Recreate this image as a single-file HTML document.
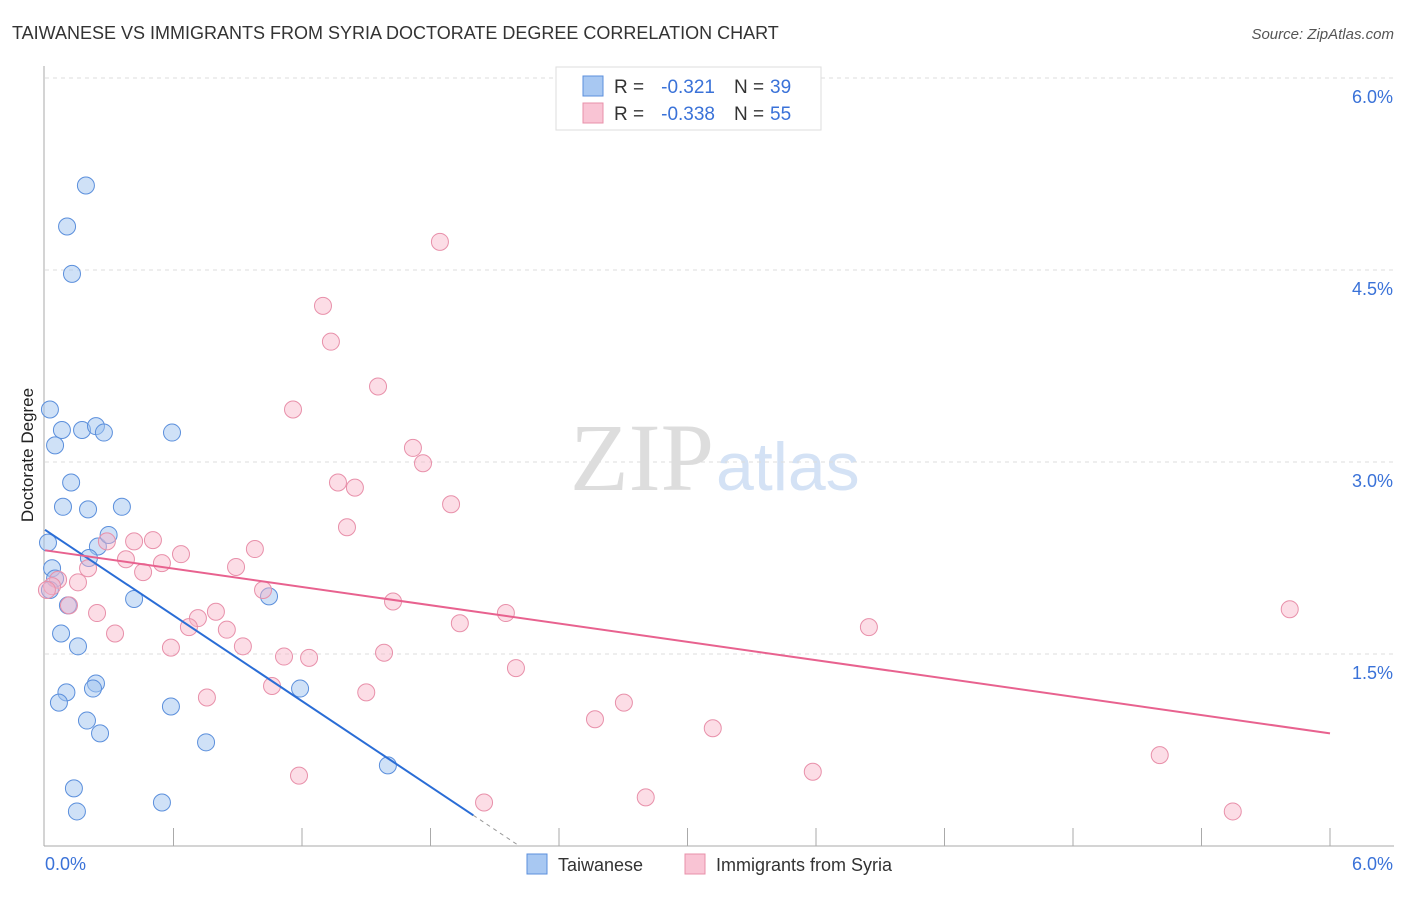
<!DOCTYPE html>
<html><head><meta charset="utf-8"><style>
body{margin:0;background:#fff;font-family:"Liberation Sans",sans-serif}
</style></head><body>
<svg id="c" width="1406" height="892" xmlns="http://www.w3.org/2000/svg"></svg>
<script>
const blueX=[1.91,1.03,1.26,0.23,0.79,0.47,1.73,2.38,2.75,5.93,1.22,0.84,2.01,3.59,0.14,2.47,2.97,2.05,0.33,0.47,0.23,1.07,4.16,0.75,1.54,10.46,2.38,2.24,1.0,0.65,1.96,5.88,2.57,7.52,16.01,1.35,1.49,5.46,11.91];
const blueY=[5.16,4.84,4.47,3.41,3.25,3.13,3.25,3.28,3.23,3.23,2.84,2.65,2.63,2.65,2.37,2.34,2.43,2.25,2.17,2.09,2.0,1.88,1.93,1.66,1.56,1.95,1.27,1.23,1.2,1.12,0.98,1.09,0.88,0.81,0.63,0.45,0.27,0.34,1.23];
const pinkX=[18.44,12.98,13.35,15.55,11.58,17.18,17.65,13.68,14.47,18.96,14.1,4.16,2.89,5.04,9.8,6.35,3.78,5.46,2.01,8.92,4.58,0.61,1.54,0.33,0.09,10.18,1.12,16.25,21.52,2.43,7.98,7.14,6.72,19.37,38.47,58.12,3.27,8.49,9.24,5.88,11.16,12.33,15.83,21.99,7.56,10.6,15.0,27.03,25.68,31.18,11.86,35.85,52.05,20.5,28.05,55.46];
const pinkY=[4.72,4.22,3.94,3.59,3.41,3.11,2.99,2.84,2.8,2.67,2.49,2.38,2.38,2.39,2.32,2.28,2.24,2.21,2.17,2.18,2.14,2.08,2.06,2.03,2.0,2.0,1.88,1.91,1.82,1.82,1.83,1.78,1.71,1.74,1.71,1.85,1.66,1.69,1.56,1.55,1.48,1.47,1.51,1.39,1.16,1.25,1.2,1.12,0.99,0.92,0.55,0.58,0.71,0.34,0.38,0.27];
const yTicks=[1.5,3.0,4.5,6.0];
const trendBlue=[0,2.47,2.0,0.24];
const trendPink=[0,2.31,6.0,0.88];
const X0=45,XW=1285,Y0=846,YH=768;
const sx=v=>X0+v/6*XW, sy=v=>Y0-v/6*YH, sxp=v=>X0+v/60*XW;
const svg=document.getElementById('c');const NS='http://www.w3.org/2000/svg';
function mk(t,a,txt){const e=document.createElementNS(NS,t);for(const k in a)e.setAttribute(k,a[k]);if(txt!==undefined)e.textContent=txt;svg.appendChild(e);return e;}
let e=mk('text',{x:12,y:39,'font-size':18,fill:'#333'},'TAIWANESE VS IMMIGRANTS FROM SYRIA DOCTORATE DEGREE CORRELATION CHART');

e=mk('text',{x:1394,y:39,'font-size':15,fill:'#555','font-style':'italic','text-anchor':'end'},'Source: ZipAtlas.com');

e=mk('text',{x:714,y:490,'font-size':96,fill:'#ddd','text-anchor':'end','font-family':'Liberation Serif'},'ZIP');

e=mk('text',{x:716,y:490,'font-size':68,fill:'#d4e2f5'},'atlas');

yTicks.forEach(t=>{
 e=mk('line',{x1:X0,x2:1394,y1:sy(t),y2:sy(t),stroke:'#ddd','stroke-dasharray':'4,4'});
 
 e=mk('text',{x:1393,y:sy(t)+25,'font-size':18,fill:'#3a72d8','text-anchor':'end'},t.toFixed(1)+'%');
 
});
e=mk('line',{x1:44,x2:44,y1:66,y2:846,stroke:'#aaa'});
e=mk('line',{x1:44,x2:1394,y1:846,y2:846,stroke:'#aaa'});
for(let i=1;i<=10;i++){e=mk('line',{x1:sx(i*0.6),x2:sx(i*0.6),y1:828,y2:846,stroke:'#aaa'});}
e=mk('text',{x:45,y:870,'font-size':18,fill:'#3a72d8'},'0.0%');
e=mk('text',{x:1393,y:870,'font-size':18,fill:'#3a72d8','text-anchor':'end'},'6.0%');
e=mk('text',{x:33,y:455,'font-size':17,fill:'#222','text-anchor':'middle',transform:'rotate(-90 33 455)'},'Doctorate Degree');

blueX.forEach((v,i)=>{e=mk('circle',{cx:sxp(v),cy:sy(blueY[i]),r:8.5,fill:'rgba(160,196,240,0.5)',stroke:'#5b8fdc','stroke-width':1});
 });
pinkX.forEach((v,i)=>{e=mk('circle',{cx:sxp(v),cy:sy(pinkY[i]),r:8.5,fill:'rgba(248,180,200,0.45)',stroke:'#e890aa','stroke-width':1});
 });
const bs=(trendBlue[3]-trendBlue[1])/(trendBlue[2]-trendBlue[0]);
const bx0=trendBlue[0]+trendBlue[1]/-bs;
e=mk('line',{x1:sx(trendBlue[0]),y1:sy(trendBlue[1]),x2:sx(trendBlue[2]),y2:sy(trendBlue[3]),stroke:'#2a6dd6','stroke-width':2});

e=mk('line',{x1:sx(trendBlue[2]),y1:sy(trendBlue[3]),x2:sx(bx0),y2:sy(0),stroke:'#999','stroke-dasharray':'4,4'});

e=mk('line',{x1:sx(trendPink[0]),y1:sy(trendPink[1]),x2:sx(trendPink[2]),y2:sy(trendPink[3]),stroke:'#e8628f','stroke-width':2});

e=mk('rect',{x:556,y:67,width:265,height:63,fill:'#fff',stroke:'#ddd'});
[[ '#a8c8f2','#5b8fdc','-0.321','39',86],['#f9c4d4','#e890aa','-0.338','55',113]].forEach(r=>{
 e=mk('rect',{x:583,y:r[4]-10,width:20,height:20,fill:r[0],stroke:r[1]});
 e=mk('text',{x:614,y:r[4]+7,'font-size':19,fill:'#333'},'R = ');
 e=mk('text',{x:715,y:r[4]+7,'font-size':19,fill:'#3a72d8','text-anchor':'end'},r[2]);
 e=mk('text',{x:734,y:r[4]+7,'font-size':19,fill:'#333'},'N = ');
 e=mk('text',{x:770,y:r[4]+7,'font-size':19,fill:'#3a72d8'},r[3]);
});
e=mk('rect',{x:527,y:854,width:20,height:20,fill:'#a8c8f2',stroke:'#5b8fdc'});
e=mk('text',{x:558,y:871,'font-size':18,fill:'#333'},'Taiwanese');
e=mk('rect',{x:685,y:854,width:20,height:20,fill:'#f9c4d4',stroke:'#e890aa'});
e=mk('text',{x:716,y:871,'font-size':18,fill:'#333'},'Immigrants from Syria');
</script>
</body></html>
